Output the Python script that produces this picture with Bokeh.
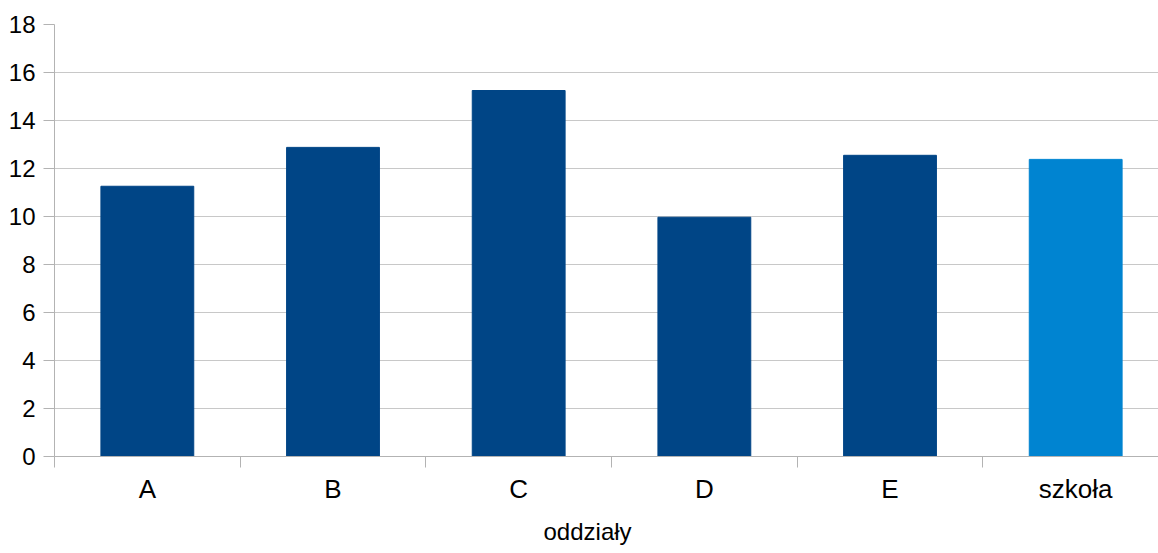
from bokeh.plotting import figure
from bokeh.models import Range1d, FixedTicker, ColumnDataSource, Title
from bokeh.embed import file_html
from bokeh.resources import INLINE

categories = ["A", "B", "C", "D", "E", "szkoła"]
values = [11.26, 12.88, 15.25, 9.97, 12.55, 12.38]
colors = ["#004586", "#004586", "#004586", "#004586", "#004586", "#0084d1"]
y_ticks = [0, 2, 4, 6, 8, 10, 12, 14, 16, 18]
x_title = "oddziały"

xs = [i + 0.5 for i in range(len(categories))]
src = ColumnDataSource(dict(x=xs, top=values, color=colors))

p = figure(width=1158, height=553, output_backend="svg", toolbar_location=None,
           x_range=Range1d(0, 5.946), y_range=Range1d(0, 18),
           min_border_left=54, min_border_right=0, min_border_top=24, min_border_bottom=96)
p.outline_line_color = None
p.background_fill_color = "white"

p.vbar(x="x", top="top", width=0.5, color="color", source=src)

FONT = "Liberation Sans"
GRAY = "#b3b3b3"

p.xaxis.ticker = FixedTicker(ticks=xs, minor_ticks=list(range(0, 7)))
p.xaxis.major_label_overrides = {x: c for x, c in zip(xs, categories)}
p.xaxis.major_tick_out = 0
p.xaxis.major_tick_in = 0
p.xaxis.minor_tick_out = 11
p.xaxis.minor_tick_in = 0
p.xaxis.minor_tick_line_color = GRAY
p.xaxis.axis_line_color = GRAY
p.xaxis.major_label_text_font = FONT
p.xaxis.major_label_text_font_size = "26px"
p.xaxis.major_label_text_color = "#000000"
p.xaxis.major_label_standoff = 6

p.add_layout(Title(text=x_title, align="left", offset=489,
                   text_font=FONT, text_font_size="24px", text_font_style="normal",
                   text_color="#000000", standoff=18, vertical_align="bottom"), "below")

p.yaxis.ticker = FixedTicker(ticks=y_ticks)
p.yaxis.major_tick_out = 11
p.yaxis.major_tick_in = 0
p.yaxis.minor_tick_line_color = None
p.yaxis.major_tick_line_color = GRAY
p.yaxis.axis_line_color = GRAY
p.yaxis.major_label_text_font = FONT
p.yaxis.major_label_text_font_size = "24px"
p.yaxis.major_label_text_color = "#000000"
p.yaxis.major_label_standoff = 8

p.xgrid.grid_line_color = None
p.ygrid.grid_line_color = "#c8c8c8"
p.ygrid.grid_line_width = 1

open("out.html", "w").write(file_html(p, INLINE))
